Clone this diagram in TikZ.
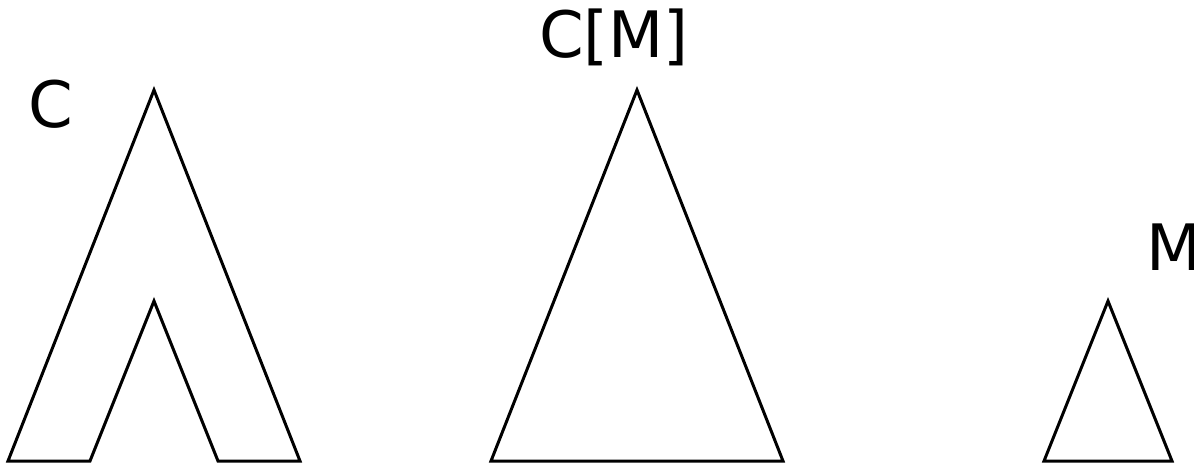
\documentclass[tikz,border=0pt]{standalone}
\usepackage{fontspec}
\setmainfont{DejaVu Sans}
\begin{document}
\begin{tikzpicture}[x=1pt,y=-1pt,
  shape line/.style={line width=3pt,line join=miter,black},
  label text/.style={inner sep=0pt,font=\fontsize{64}{70}\selectfont}]
\useasboundingbox (0,0) rectangle (1194,464);
% C shape
\draw[shape line] (8,461) -- (154,90) -- (300,461) -- (218,461) -- (154,301) -- (90,461) -- cycle;
\node[label text,anchor=base] (lc) at (51,127) {C};
% C[M] triangle
\draw[shape line] (491,461) -- (637,90) -- (783,461) -- cycle;
\node[label text,anchor=base] (lcm) at (614,57) {C[M]};
% M triangle
\draw[shape line] (1044,461) -- (1108,301) -- (1172,461) -- cycle;
\node[label text,anchor=base west] (lm) at (1146,270) {M};
\end{tikzpicture}
\end{document}
